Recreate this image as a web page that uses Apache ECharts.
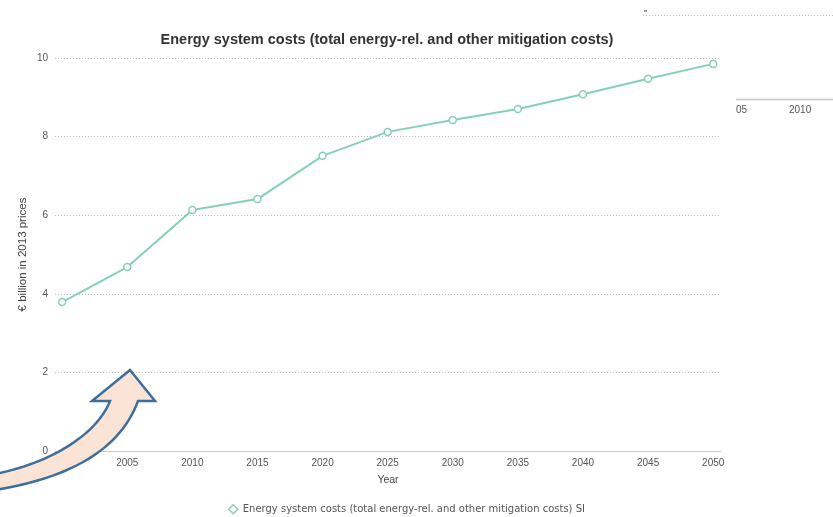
<!DOCTYPE html>
<html>
<head>
<meta charset="utf-8">
<script src="https://cdn.jsdelivr.net/npm/echarts@6/dist/echarts.min.js"></script>
<style>
  html, body { margin: 0; padding: 0; background: #fff; }
  #chart { width: 833px; height: 517px; }
</style>
</head>
<body>
<div id="chart"></div>
<script>
// Years and energy system costs (€ billion, 2013 prices)
const years = [2000, 2005, 2010, 2015, 2020, 2025, 2030, 2035, 2040, 2045, 2050];
const costs = [3.79, 4.68, 6.13, 6.41, 7.51, 8.12, 8.42, 8.70, 9.08, 9.47, 9.85];
const yTicks = [0, 2, 4, 6, 8, 10];
const seriesName = 'Energy system costs (total energy-rel. and other mitigation costs) SI';
const titleText = 'Energy system costs (total energy-rel. and other mitigation costs)';

const lineColor = '#86cfb9';
const labelFont = 'Liberation Sans, Arial, sans-serif';
const legendFont = 'DejaVu Sans, Verdana, sans-serif';

// Outline of the curved call-out arrow: head, then two cubic edges for the shaft.
function cubic(p0, p1, p2, p3, n) {
  const pts = [];
  for (let i = 0; i <= n; i++) {
    const t = i / n, u = 1 - t;
    pts.push([
      u * u * u * p0[0] + 3 * u * u * t * p1[0] + 3 * u * t * t * p2[0] + t * t * t * p3[0],
      u * u * u * p0[1] + 3 * u * u * t * p1[1] + 3 * u * t * t * p2[1] + t * t * t * p3[1]
    ]);
  }
  return pts;
}
const arrowPoints = [].concat(
  [[130, 370], [155, 401], [138, 401]],
  cubic([138, 401], [122, 444], [80, 476], [-5, 490], 30).slice(1),
  cubic([-5, 474], [55, 462], [98, 432], [110, 401], 30),
  [[92, 401]]
);

const chart = echarts.init(document.getElementById('chart'), null, { renderer: 'canvas' });

chart.setOption({
  backgroundColor: '#ffffff',
  animation: false,
  title: {
    text: titleText,
    left: 382,
    textAlign: 'center',
    top: 27,
    textStyle: { fontFamily: labelFont, fontSize: 14.5, fontWeight: 'bold', color: '#333' }
  },
  legend: {
    top: 499,
    left: 223,
    icon: 'diamond',
    itemWidth: 9,
    itemHeight: 9,
    itemGap: 10,
    itemStyle: { color: '#fff', borderColor: lineColor, borderWidth: 1.5 },
    textStyle: { fontFamily: legendFont, fontSize: 10, color: '#555' },
    data: [seriesName]
  },
  grid: { left: 55, right: 112, top: 58, bottom: 66, containLabel: false },
  xAxis: {
    type: 'value',
    min: 1999.45,
    max: 2050.6,
    name: 'Year',
    nameLocation: 'middle',
    nameGap: 24,
    nameTextStyle: { fontFamily: labelFont, fontSize: 10.5, color: '#444' },
    axisLine: { show: true, lineStyle: { color: '#c8c8c8', width: 1 } },
    axisTick: { show: false },
    splitLine: { show: false },
    axisLabel: {
      customValues: years,
      margin: 7,
      fontFamily: labelFont, fontSize: 10, color: '#555',
      formatter: v => String(Math.round(v))
    }
  },
  yAxis: {
    type: 'value',
    min: 0,
    max: 10,
    interval: 2,
    name: '€ billion in 2013 prices',
    nameLocation: 'middle',
    nameRotate: 90,
    nameGap: 26,
    nameMoveOverlap: false,
    nameTextStyle: { fontFamily: labelFont, fontSize: 11.5, color: '#444' },
    axisLine: { show: false },
    axisTick: { show: false },
    axisLabel: {
      customValues: yTicks,
      margin: 7,
      fontFamily: labelFont, fontSize: 10, color: '#555'
    },
    splitLine: { show: true, lineStyle: { color: '#bdbdbd', type: [1, 2], width: 1 } }
  },
  series: [{
    name: seriesName,
    type: 'line',
    data: years.map((y, i) => [y, costs[i]]),
    symbol: 'circle',
    symbolSize: 7,
    showAllSymbol: true,
    lineStyle: { color: lineColor, width: 2 },
    itemStyle: { color: '#fff', borderColor: lineColor, borderWidth: 1.5 },
    z: 3
  }],
  graphic: [
    // fragment of a neighbouring panel, upper right
    { type: 'line', shape: { x1: 643, y1: 15.5, x2: 833, y2: 15.5 },
      style: { stroke: '#bdbdbd', lineWidth: 1, lineDash: [1, 2] }, z: 10 },
    { type: 'line', shape: { x1: 644, y1: 11, x2: 647, y2: 11 },
      style: { stroke: '#555', lineWidth: 1.2 }, z: 10 },
    { type: 'line', shape: { x1: 736, y1: 99.5, x2: 833, y2: 99.5 },
      style: { stroke: '#c8c8c8', lineWidth: 1.5 }, z: 10 },
    { type: 'text', x: 736, y: 105,
      style: { text: '05', font: '10px Liberation Sans, Arial, sans-serif', fill: '#555' }, z: 10 },
    { type: 'text', x: 789, y: 105,
      style: { text: '2010', font: '10px Liberation Sans, Arial, sans-serif', fill: '#555' }, z: 10 },
    // curved call-out arrow pointing at the 2005 value
    {
      type: 'polygon',
      z: 20,
      shape: { points: arrowPoints },
      style: { fill: '#fbe4d5', stroke: '#3d6f9c', lineWidth: 2.5, lineJoin: 'miter' }
    }
  ]
});
</script>
</body>
</html>
